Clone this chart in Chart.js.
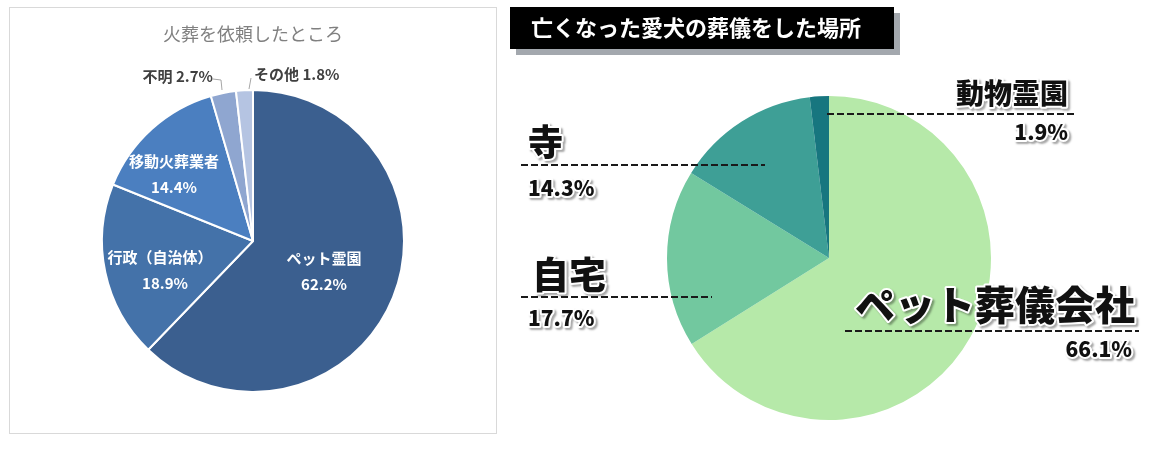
<!DOCTYPE html>
<html>
<head>
<meta charset="utf-8">
<script src="https://cdn.jsdelivr.net/npm/chart.js@4.4.1/dist/chart.umd.min.js"></script>
<style>
  html, body { margin: 0; padding: 0; background: #fff; }
  body { width: 1170px; height: 461px; position: relative; overflow: hidden; }
  #left-box { position: absolute; left: 9px; top: 7px; width: 486px; height: 425px; border: 1px solid #d9d9d9; }
  #right-box { position: absolute; left: 500px; top: 0; width: 670px; height: 461px; }
</style>
</head>
<body>
<div id="left-box"><canvas id="cremation-chart"></canvas></div>
<div id="right-box"><canvas id="funeral-chart"></canvas></div>
<script>
const FONT = '"Noto Sans CJK JP", "Noto Sans", sans-serif';

// 火葬を依頼したところ
const cremationTitle = '火葬を依頼したところ';
const cremationLabels = ['ペット霊園', '行政（自治体）', '移動火葬業者', '不明', 'その他'];
const cremationValues = [62.2, 18.9, 14.4, 2.7, 1.8];
const cremationColors = ['#3b5f8f', '#4472a9', '#4b7fc0', '#8fa6d0', '#b5c4e2'];

// 亡くなった愛犬の葬儀をした場所
const funeralTitle = '亡くなった愛犬の葬儀をした場所';
const funeralLabels = ['ペット葬儀会社', '自宅', '寺', '動物霊園'];
const funeralValues = [66.1, 17.7, 14.3, 1.9];
const funeralColors = ['#b6e9a9', '#72c89f', '#3e9f96', '#17767f'];

const pct = v => v.toFixed(1) + '%';

// label placement relative to the pie centre (left chart)
const insideSpots = [[71, 30], [-88, 29], [-79, -67]];
const outsideSpots = [
    { text: [-40, -165], align: 'right', line: [[-40, -162], [-32, -161], [-31, -151]] },
    { text: [1, -167], align: 'left', line: [[-4, -152], [-2, -163]] }
];

const cremationLabelPlugin = {
    id: 'cremationLabels',
    afterDraw(chart) {
        const ctx = chart.ctx;
        const arc = chart.getDatasetMeta(0).data[0];
        const cx = arc.x, cy = arc.y;
        ctx.save();
        ctx.textBaseline = 'middle';
        // title
        ctx.fillStyle = '#808080';
        ctx.textAlign = 'center';
        ctx.font = '18px ' + FONT;
        ctx.fillText(cremationTitle, cx, 26);
        // inside labels
        ctx.fillStyle = '#ffffff';
        ctx.font = 'bold 15px ' + FONT;
        insideSpots.forEach((p, i) => {
            ctx.fillText(cremationLabels[i], cx + p[0] - (i === 1 ? 5 : 0), cy + p[1] - 13);
            ctx.fillText(pct(cremationValues[i]), cx + p[0], cy + p[1] + 13);
        });
        // outside labels with leader lines
        outsideSpots.forEach((s, k) => {
            const i = k + 3;
            ctx.strokeStyle = '#a6a6a6';
            ctx.lineWidth = 1;
            ctx.beginPath();
            s.line.forEach((pt, j) => {
                if (j === 0) ctx.moveTo(cx + pt[0], cy + pt[1]);
                else ctx.lineTo(cx + pt[0], cy + pt[1]);
            });
            ctx.stroke();
            ctx.fillStyle = '#404040';
            ctx.textAlign = s.align;
            ctx.font = 'bold 15px ' + FONT;
            ctx.fillText(cremationLabels[i] + ' ' + pct(cremationValues[i]), cx + s.text[0], cy + s.text[1]);
        });
        ctx.restore();
    }
};

new Chart(document.getElementById('cremation-chart').getContext('2d'), {
    type: 'pie',
    data: {
        labels: cremationLabels,
        datasets: [{
            data: cremationValues,
            backgroundColor: cremationColors,
            borderColor: '#ffffff',
            borderWidth: 2
        }]
    },
    options: {
        responsive: true,
        maintainAspectRatio: false,
        animation: false,
        layout: { padding: { top: 81, bottom: 40, left: 0, right: 0 } },
        plugins: { legend: { display: false }, tooltip: { enabled: false } }
    },
    plugins: [cremationLabelPlugin]
});

// label placement relative to the pie centre (right chart)
const funeralSpots = [
    { name: [306, 47, 40], value: [303, 91], align: 'right', dash: [16, 310, 73] },
    { name: [-297, 17, 37], value: [-301, 60], align: 'left', dash: [-308, -117, 39] },
    { name: [-301, -116, 35], value: [-301, -70], align: 'left', dash: [-308, -64, -93] },
    { name: [239, -165, 28], value: [239, -126], align: 'right', dash: [-2, 248, -144] }
];

function strokedText(ctx, text, x, y) {
    ctx.save();
    ctx.shadowColor = 'rgba(0,0,0,0.35)';
    ctx.shadowOffsetX = 2;
    ctx.shadowOffsetY = 2;
    ctx.shadowBlur = 2;
    ctx.strokeStyle = '#ffffff';
    ctx.lineWidth = 4;
    ctx.lineJoin = 'round';
    ctx.strokeText(text, x, y);
    ctx.restore();
    ctx.fillText(text, x, y);
}

const funeralLabelPlugin = {
    id: 'funeralLabels',
    afterDraw(chart) {
        const ctx = chart.ctx;
        const arc = chart.getDatasetMeta(0).data[0];
        const cx = arc.x, cy = arc.y;
        ctx.save();
        // title banner
        ctx.fillStyle = '#a3a8ae';
        ctx.fillRect(16, 13, 384, 42);
        ctx.fillStyle = '#000000';
        ctx.fillRect(10, 7, 384, 42);
        ctx.fillStyle = '#ffffff';
        ctx.font = 'bold 22px ' + FONT;
        ctx.textAlign = 'left';
        ctx.textBaseline = 'middle';
        ctx.fillText(funeralTitle, 31, 28);
        // labels
        funeralSpots.forEach((s, i) => {
            ctx.strokeStyle = '#1a1a1a';
            ctx.lineWidth = 2;
            ctx.setLineDash([7, 3]);
            ctx.beginPath();
            ctx.moveTo(cx + s.dash[0], cy + s.dash[2]);
            ctx.lineTo(cx + s.dash[1], cy + s.dash[2]);
            ctx.stroke();
            ctx.setLineDash([]);
            ctx.fillStyle = '#111111';
            ctx.textAlign = s.align;
            ctx.font = '900 ' + s.name[2] + 'px ' + FONT;
            strokedText(ctx, funeralLabels[i], cx + s.name[0], cy + s.name[1]);
            ctx.font = '900 21px ' + FONT;
            strokedText(ctx, pct(funeralValues[i]), cx + s.value[0], cy + s.value[1]);
        });
        ctx.restore();
    }
};

new Chart(document.getElementById('funeral-chart').getContext('2d'), {
    type: 'pie',
    data: {
        labels: funeralLabels,
        datasets: [{
            data: funeralValues,
            backgroundColor: funeralColors,
            borderWidth: 0
        }]
    },
    options: {
        responsive: true,
        maintainAspectRatio: false,
        animation: false,
        layout: { padding: { top: 96, bottom: 41, left: 100, right: 112 } },
        plugins: { legend: { display: false }, tooltip: { enabled: false } }
    },
    plugins: [funeralLabelPlugin]
});
</script>
</body>
</html>
